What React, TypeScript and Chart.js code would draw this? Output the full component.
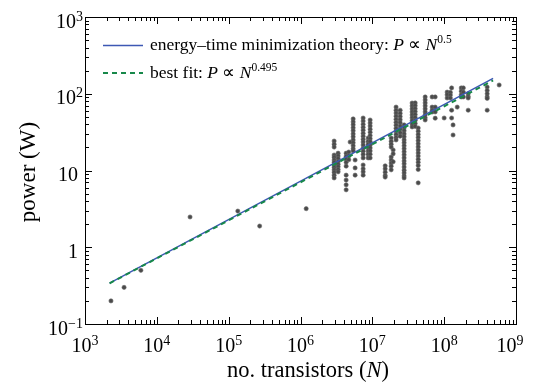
import React, { useEffect, useRef } from "react";
import { Chart, registerables } from "chart.js";
Chart.register(...registerables);

// Axis ticks
const xTickValues = [1e3, 1e4, 1e5, 1e6, 1e7, 1e8, 1e9];
const xTickExps = ["3", "4", "5", "6", "7", "8", "9"];
const yTickValues = [0.1, 1, 10, 100, 1000];
const yTickBases = ["10", "1", "10", "10", "10"];
const yTickExps = ["\u22121", "", "", "2", "3"];

// Lines (endpoints)
const theoryN = [2.2e3, 4.8e8];
const theoryP = [0.34, 158.6];
const fitN = [2.2e3, 4.8e8];
const fitP = [0.339, 149];

// Early chips
const earlyN = [2.3e3, 3.5e3, 6.0e3, 2.9e4, 1.34e5, 2.7e5, 1.2e6];
const earlyP = [0.2, 0.3, 0.5, 2.48, 2.96, 1.89, 3.18];

// Later chips, grouped by transistor count
const columnN = [
  2.94e6, 3.34e6, 4.32e6, 4.7e6, 4.91e6, 5.41e6, 5.76e6, 7.45e6, 8.75e6, 9.32e6,
  1.51e7, 1.83e7, 1.95e7, 2.14e7, 2.44e7, 2.77e7, 3.58e7, 3.95e7, 4.35e7, 5.44e7,
  6.8e7, 7.5e7, 1.0e8, 1.1e8, 1.22e8, 1.27e8, 1.33e8, 1.52e8, 1.73e8, 1.85e8,
  2.16e8, 3.97e8, 5.83e8,
];
const columnP = [
  [24.2, 22.0, 20.2, 15.9, 14.9, 13.7, 12.8, 11.8, 11.0, 10.2, 9.5, 8.7, 8.0],
  [16.8, 15.5, 14.3, 13.1, 12.1, 11.2, 10.3, 9.6],
  [16.8, 15.3, 14.0, 12.8, 11.4, 8.7, 7.5, 6.5, 5.6],
  [17.4, 15.5, 13.8],
  [23.5],
  [47, 43, 39.5, 36, 33, 30, 27.5, 25, 23, 21, 19.2, 18],
  [13.7, 10.8, 8.7],
  [48.3, 44, 40, 36.5, 33.5, 30.5, 28, 25.5, 23.5, 21.5, 19.5, 17.8, 16.2, 14.6, 11.8, 10.5, 9.6, 8.7],
  [26.5, 24, 22, 20, 18, 16.3, 14.6],
  [45.5, 41.5, 38, 34.5, 31.5, 28.5, 26, 23.8, 21.5, 19.7, 18, 16.3, 14.6],
  [11.5, 10.5, 9.5, 8.6, 8.2],
  [26.5, 24, 22, 20.2, 15, 13.7, 12.5, 11.4, 10.2],
  [18.5, 16.5, 13.0],
  [67, 61, 56, 51, 46.5, 42.5, 39, 35.5, 32.5, 29.5, 27, 25],
  [61, 55.5, 50.5, 46, 42, 38, 34.5, 31, 28],
  [39.2, 36, 33, 30, 27.5, 25, 23, 21, 19.2, 17.5, 16, 14.6, 13.3, 12.2, 11.1, 10.1, 9.3, 8.5, 8.0],
  [75.7, 69.5, 63.5, 58, 53, 48.5, 44.5, 40.5, 37],
  [76, 70, 64, 58.5, 53.5, 49, 45, 41, 37.5],
  [35.8, 32.5, 29.5, 27, 24.5, 22.3, 20.3, 18.5, 16.9, 15.4, 14, 12.8, 11.6, 10.3, 6.9],
  [90.8, 83, 76, 69.5, 63.5, 58, 53, 48.5, 45.5],
  [90.8, 67, 61, 57.8],
  [90.8, 67, 58, 48],
  [48.3],
  [105, 97, 88],
  [104, 96, 88],
  [119, 61, 48.3],
  [39.2, 29],
  [67],
  [119, 108, 97, 90.8],
  [119, 105, 91],
  [100, 92, 88, 61],
  [122, 110, 100, 91, 87, 61],
  [130],
];

const SERIF = '"Liberation Serif", "Times New Roman", serif';
const BLUE = "#3d58b4";
const GREEN = "#17884a";

function drawRuns(ctx: CanvasRenderingContext2D, runs: { t: string; f: string; dy?: number }[], x: number, baseline: number, align: "left" | "center" | "right") {
  let total = 0;
  const widths = runs.map((r) => {
    ctx.font = r.f;
    const w = ctx.measureText(r.t).width;
    total += w;
    return w;
  });
  let cx = align === "left" ? x : align === "center" ? x - total / 2 : x - total;
  ctx.textAlign = "left";
  ctx.textBaseline = "alphabetic";
  runs.forEach((r, i) => {
    ctx.font = r.f;
    ctx.fillText(r.t, cx, baseline - (r.dy || 0));
    cx += widths[i];
  });
}

const decorPlugin = {
  id: "decor",
  afterDraw(chart: any) {
    const ctx: CanvasRenderingContext2D = chart.ctx;
    const { left, right, top, bottom } = chart.chartArea;
    const xs = chart.scales.x;
    const ys = chart.scales.y;
    ctx.save();
    ctx.strokeStyle = "#000";
    ctx.fillStyle = "#000";
    ctx.lineWidth = 1;
    // frame
    ctx.strokeRect(Math.round(left) + 0.5, Math.round(top) + 0.5, Math.round(right - left), Math.round(bottom - top));
    // ticks
    ctx.beginPath();
    for (let e = 3; e < 9; e++) {
      for (let m = 1; m < 10; m++) {
        const v = m * Math.pow(10, e);
        const px = Math.round(xs.getPixelForValue(v)) + 0.5;
        const len = m === 1 ? 7 : 4;
        ctx.moveTo(px, bottom);
        ctx.lineTo(px, bottom - len);
        ctx.moveTo(px, top);
        ctx.lineTo(px, top + len);
      }
    }
    for (let e = -1; e < 3; e++) {
      for (let m = 1; m < 10; m++) {
        const v = m * Math.pow(10, e);
        const py = Math.round(ys.getPixelForValue(v)) + 0.5;
        const len = m === 1 ? 7 : 4;
        ctx.moveTo(left, py);
        ctx.lineTo(left + len, py);
        ctx.moveTo(right, py);
        ctx.lineTo(right - len, py);
      }
    }
    ctx.stroke();

    const baseF = `20px ${SERIF}`;
    const supF = `14px ${SERIF}`;
    // x tick labels
    xTickValues.forEach((v, i) => {
      let px = xs.getPixelForValue(v);
      if (i === xTickValues.length - 1) px -= 6;
      drawRuns(ctx, [{ t: "10", f: baseF }, { t: xTickExps[i], f: supF, dy: 7 }], px, 352, "center");
    });
    // y tick labels
    yTickValues.forEach((v, i) => {
      const py = ys.getPixelForValue(v);
      const runs: any[] = [{ t: yTickBases[i], f: baseF }];
      if (yTickExps[i]) runs.push({ t: yTickExps[i], f: supF, dy: 7 });
      drawRuns(ctx, runs, yTickExps[i] ? 83 : 78, py + 10.5, "right");
    });
    // axis titles
    drawRuns(ctx, [
      { t: "no. transistors (", f: `22.5px ${SERIF}` },
      { t: "N", f: `italic 22.5px ${SERIF}` },
      { t: ")", f: `22.5px ${SERIF}` },
    ], 308, 377, "center");
    ctx.save();
    ctx.translate(35, 172);
    ctx.rotate(-Math.PI / 2);
    drawRuns(ctx, [{ t: "power (W)", f: `23px ${SERIF}` }], 0, 0, "center");
    ctx.restore();

    // legend
    ctx.lineWidth = 1.5;
    ctx.strokeStyle = BLUE;
    ctx.beginPath();
    ctx.moveTo(103, 45.5);
    ctx.lineTo(143, 45.5);
    ctx.stroke();
    ctx.lineWidth = 2;
    ctx.strokeStyle = GREEN;
    ctx.setLineDash([5, 4]);
    ctx.beginPath();
    ctx.moveTo(103, 73);
    ctx.lineTo(143, 73);
    ctx.stroke();
    ctx.setLineDash([]);
    const lf = `17.5px ${SERIF}`;
    const li = `italic 17.5px ${SERIF}`;
    const ls = `11.5px ${SERIF}`;
    drawRuns(ctx, [
      { t: "energy\u2013time minimization theory: ", f: lf },
      { t: "P", f: li },
      { t: " \u221D ", f: lf },
      { t: "N", f: li },
      { t: "0.5", f: ls, dy: 7 },
    ], 150, 50, "left");
    drawRuns(ctx, [
      { t: "best fit: ", f: lf },
      { t: "P", f: li },
      { t: " \u221D ", f: lf },
      { t: "N", f: li },
      { t: "0.495", f: ls, dy: 7 },
    ], 150, 78, "left");
    ctx.restore();
  },
};

export default function App() {
  const ref = useRef<HTMLCanvasElement | null>(null);
  useEffect(() => {
    document.body.style.margin = "0";
    const pts: { x: number; y: number }[] = [];
    earlyN.forEach((n, i) => pts.push({ x: n, y: earlyP[i] }));
    columnN.forEach((n, i) => columnP[i].forEach((p) => pts.push({ x: n, y: p })));
    const chart = new Chart(ref.current as HTMLCanvasElement, {
      type: "scatter",
      data: {
        datasets: [
          {
            type: "line",
            data: fitN.map((n, i) => ({ x: n, y: fitP[i] })),
            borderColor: GREEN,
            borderWidth: 2,
            borderDash: [5, 4],
            pointRadius: 0,
            fill: false,
            order: 0,
          } as any,
          {
            type: "line",
            data: theoryN.map((n, i) => ({ x: n, y: theoryP[i] })),
            borderColor: BLUE,
            borderWidth: 1.5,
            pointRadius: 0,
            fill: false,
            order: 1,
          } as any,
          {
            type: "scatter",
            data: pts,
            backgroundColor: "#4a4a4a",
            borderColor: "#6a6a6a",
            borderWidth: 0.6,
            pointRadius: 2.1,
            order: 2,
          } as any,
        ],
      },
      options: {
        animation: false,
        responsive: false,
        events: [],
        layout: { padding: { left: 85, top: 17, right: 18, bottom: 59 } },
        plugins: { legend: { display: false }, tooltip: { enabled: false } },
        scales: {
          x: { type: "logarithmic", min: 1e3, max: 1e9, display: false },
          y: { type: "logarithmic", min: 0.1, max: 1000, display: false },
        },
      },
      plugins: [decorPlugin],
    });
    return () => chart.destroy();
  }, []);
  return (
    <div style={{ position: "absolute", left: 0, top: 0, width: 534, height: 383, background: "#fff" }}>
      <canvas ref={ref} width={534} height={383} />
    </div>
  );
}
